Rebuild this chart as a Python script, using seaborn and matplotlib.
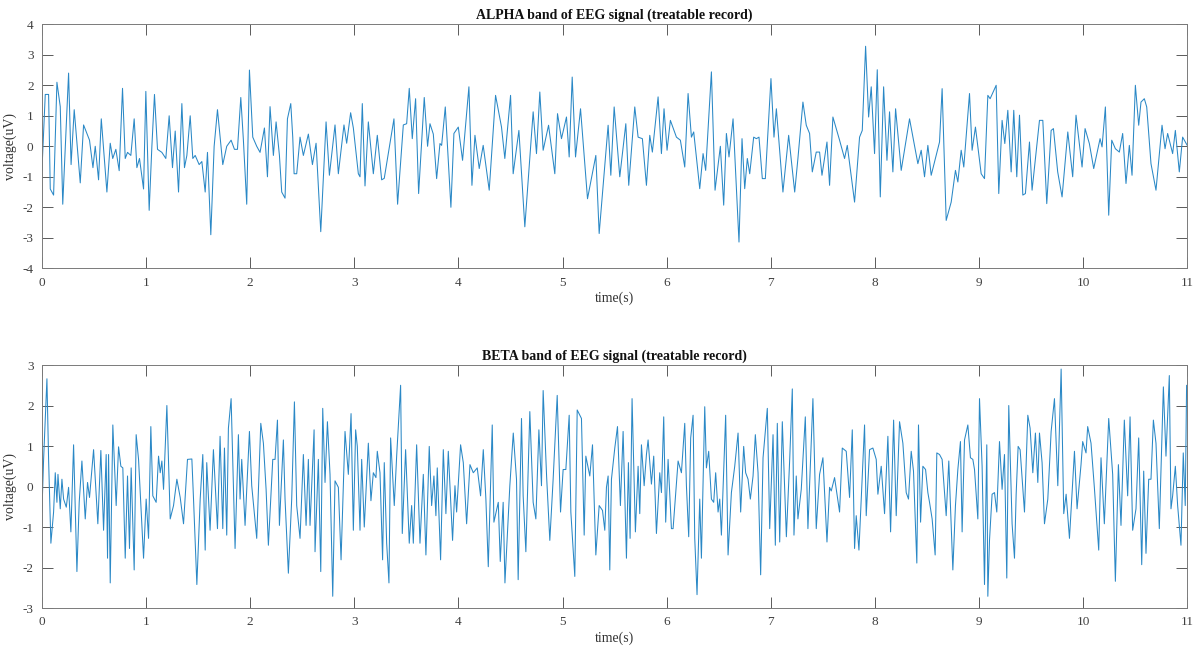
import numpy as np
import pandas as pd
import matplotlib
matplotlib.use("Agg")
import matplotlib.pyplot as plt
import seaborn as sns

# Alpha band (8-13 Hz) of the treatable EEG record: turning points of the trace
alpha_time = [
    0.0, 0.032, 0.064, 0.08, 0.112, 0.144, 0.176, 0.2, 0.256, 0.28, 0.31, 0.368, 0.40, 0.457, 0.49,
    0.512, 0.544, 0.57, 0.624, 0.656, 0.68, 0.71, 0.742, 0.774, 0.80, 0.822, 0.854, 0.886, 0.912,
    0.937, 0.976, 0.998, 1.03, 1.056, 1.081, 1.11, 1.152, 1.19, 1.222, 1.254, 1.28, 1.312, 1.344,
    1.369, 1.392, 1.424, 1.449, 1.472, 1.51, 1.536, 1.568, 1.59, 1.622, 1.654, 1.686, 1.737, 1.775,
    1.817, 1.849, 1.878, 1.91, 1.935, 1.967, 1.993, 2.025, 2.063, 2.095, 2.137, 2.166, 2.191, 2.223,
    2.249, 2.281, 2.303, 2.335, 2.358, 2.39, 2.409, 2.422, 2.447, 2.479, 2.511, 2.559, 2.598, 2.633,
    2.678, 2.729, 2.761, 2.815, 2.847, 2.901, 2.927, 2.965, 2.991, 3.039, 3.055, 3.077, 3.103, 3.135,
    3.183, 3.221, 3.263, 3.288, 3.381, 3.416, 3.471, 3.503, 3.528, 3.557, 3.589, 3.618, 3.672, 3.704,
    3.727, 3.759, 3.791, 3.823, 3.839, 3.874, 3.928, 3.957, 3.999, 4.04, 4.101, 4.13, 4.159, 4.2,
    4.238, 4.296, 4.357, 4.414, 4.446, 4.501, 4.526, 4.581, 4.638, 4.718, 4.75, 4.782, 4.814, 4.866,
    4.926, 4.952, 4.99, 5.038, 5.064, 5.093, 5.125, 5.173, 5.24, 5.32, 5.352, 5.438, 5.464, 5.496,
    5.55, 5.608, 5.636, 5.694, 5.726, 5.767, 5.806, 5.838, 5.863, 5.918, 5.95, 5.975, 6.004, 6.036,
    6.094, 6.132, 6.174, 6.206, 6.238, 6.26, 6.318, 6.35, 6.375, 6.43, 6.465, 6.516, 6.548, 6.574,
    6.599, 6.638, 6.695, 6.724, 6.75, 6.775, 6.798, 6.836, 6.862, 6.887, 6.919, 6.948, 7.002, 7.031,
    7.054, 7.117, 7.172, 7.23, 7.261, 7.309, 7.341, 7.373, 7.399, 7.437, 7.469, 7.492, 7.54, 7.565,
    7.597, 7.661, 7.709, 7.735, 7.805, 7.853, 7.879, 7.911, 7.94, 7.965, 7.997, 8.023, 8.052, 8.084,
    8.116, 8.141, 8.173, 8.199, 8.253, 8.333, 8.413, 8.445, 8.477, 8.509, 8.541, 8.621, 8.646, 8.685,
    8.733, 8.774, 8.797, 8.829, 8.854, 8.909, 8.934, 8.966, 9.021, 9.053, 9.085, 9.107, 9.165, 9.19,
    9.222, 9.248, 9.277, 9.309, 9.334, 9.363, 9.389, 9.421, 9.446, 9.485, 9.51, 9.581, 9.613, 9.651,
    9.693, 9.715, 9.756, 9.798, 9.853, 9.9, 9.932, 9.99, 10.019, 10.06, 10.102, 10.163, 10.182,
    10.214, 10.246, 10.275, 10.31, 10.348, 10.38, 10.412, 10.444, 10.47, 10.502, 10.534, 10.556,
    10.588, 10.611, 10.652, 10.7, 10.758, 10.787, 10.812, 10.86, 10.886, 10.924, 10.956, 11.0,
]
alpha_uv = [
    -0.8, 1.7, 1.7, -1.4, -1.6, 2.1, 1.3, -1.9, 2.4, -0.6, 1.2, -1.2, 0.7, 0.2, -0.7,
    0.0, -1.1, 0.9, -1.5, 0.1, -0.4, -0.1, -0.8, 1.9, -0.4, -0.2, -0.3, 0.9, -0.7,
    -0.4, -1.4, 1.8, -2.1, 0.0, 1.7, -0.1, -0.2, -0.4, 1.0, -0.7, 0.5, -1.5, 1.4,
    -0.7, -0.3, 1.0, -0.4, -0.3, -0.6, -0.5, -1.5, -0.2, -2.9, 0.0, 1.2, -0.6, 0.0,
    0.2, -0.1, -0.1, 1.6, 0.2, -1.9, 2.5, 0.3, 0.0, -0.2, 0.6, -1.0, 1.3, -0.3,
    0.8, -0.3, -1.5, -1.7, 0.9, 1.4, 0.3, -0.9, -0.9, 0.3, -0.3, 0.4, -0.6, 0.1,
    -2.8, 0.8, -0.95, 0.7, -0.9, 0.7, 0.1, 1.1, 0.6, -0.9, -1.0, 1.4, -1.3, 0.8,
    -0.9, 0.36, -1.1, -1.05, 0.9, -1.9, 0.7, 0.74, 1.9, 0.25, 1.56, -1.55, 1.6, 0.0,
    0.74, 0.4, -1.06, 0.09, 0.03, 1.29, -2.0, 0.42, 0.63, -0.46, 1.95, -1.28, 0.36, -0.73,
    0.03, -1.44, 1.67, 0.63, -0.4, 1.67, -0.9, 0.52, -2.64, 1.13, -0.24, 1.78, -0.13, 0.69,
    -0.9, 1.07, 0.25, 0.96, -0.35, 2.27, -0.35, 1.23, -1.72, -0.3, -2.86, 0.69, -0.95, 1.29,
    -1.0, 0.74, -1.28, 1.29, 0.3, 0.25, -1.28, 0.36, -0.19, 1.62, -0.24, 1.23, -0.13, 0.85,
    0.3, 0.2, -0.68, 1.73, 0.3, 0.47, -1.39, -0.24, -0.79, 2.44, -1.44, 0.0, -1.93, 0.42,
    -0.35, 0.9, -3.14, 0.25, -1.39, -0.4, -0.9, 0.3, 0.25, 0.3, -1.06, -1.06, 2.22, 0.3,
    1.23, -1.5, 0.36, -1.5, -0.4, 1.45, 0.69, 0.42, -0.84, -0.19, -0.19, -0.95, 0.14, -1.28,
    0.96, 0.2, -0.4, 0.03, -1.83, 0.3, 0.52, 3.28, 0.96, 1.95, -0.24, 2.51, -1.66, 1.95,
    -0.46, 1.13, -0.84, 1.23, -0.79, 0.9, -0.57, -0.13, -1.0, 0.03, -0.95, 0.14, 1.89, -2.43,
    -1.83, -0.79, -1.17, -0.13, -0.68, 1.73, -0.13, 0.63, -0.9, -1.06, 1.67, 1.56, 2.0, -1.55,
    0.85, 0.09, 1.18, -0.84, 1.18, -1.0, 1.02, -1.6, -1.55, 0.14, -1.44, 0.85, 0.85, -1.88,
    0.52, 0.58, -0.84, -1.66, 0.47, -1.0, 1.02, -0.68, 0.58, 0.09, -0.73, 0.25, -0.02,
    1.29, -2.26, 0.2, -0.08, -0.19, 0.42, -1.22, 0.03, -0.95, 2.0, 0.69, 1.45,
    1.56, 1.29, -0.57, -1.44, 0.69, -0.08, 0.42, -0.24, 0.52, -0.84, 0.3, 0.03,
]

# Beta band (13-30 Hz) of the same record
beta_time = [
    0.0, 0.016, 0.048, 0.064, 0.086, 0.112, 0.128, 0.144, 0.154, 0.176, 0.192, 0.208, 0.234, 0.256,
    0.278, 0.304, 0.336, 0.358, 0.384, 0.416, 0.438, 0.457, 0.496, 0.537, 0.566, 0.592, 0.617, 0.630,
    0.640, 0.656, 0.681, 0.713, 0.736, 0.758, 0.777, 0.800, 0.822, 0.841, 0.857, 0.886, 0.905, 0.928,
    0.976, 1.001, 1.024, 1.046, 1.065, 1.097, 1.120, 1.136, 1.152, 1.168, 1.200, 1.232, 1.264, 1.296,
    1.328, 1.360, 1.398, 1.440, 1.456, 1.488, 1.520, 1.545, 1.568, 1.583, 1.615, 1.647, 1.686, 1.711,
    1.737, 1.753, 1.775, 1.791, 1.817, 1.855, 1.887, 1.903, 1.919, 1.951, 1.993, 2.015, 2.063, 2.102,
    2.127, 2.153, 2.175, 2.217, 2.239, 2.262, 2.281, 2.319, 2.335, 2.367, 2.399, 2.425, 2.447, 2.479,
    2.511, 2.537, 2.559, 2.575, 2.614, 2.623, 2.655, 2.678, 2.697, 2.719, 2.742, 2.767, 2.793, 2.815,
    2.847, 2.873, 2.911, 2.943, 2.969, 2.991, 3.013, 3.029, 3.055, 3.071, 3.096, 3.135, 3.16, 3.183,
    3.208, 3.221, 3.247, 3.272, 3.288, 3.311, 3.333, 3.349, 3.384, 3.407, 3.445, 3.461, 3.493, 3.528,
    3.551, 3.567, 3.599, 3.631, 3.663, 3.688, 3.72, 3.743, 3.765, 3.784, 3.797, 3.829, 3.855, 3.88,
    3.903, 3.944, 3.967, 3.983, 4.021, 4.047, 4.079, 4.111, 4.143, 4.181, 4.213, 4.239, 4.264, 4.287,
    4.325, 4.341, 4.383, 4.402, 4.43, 4.447, 4.494, 4.527, 4.558, 4.574, 4.606, 4.622, 4.648, 4.686,
    4.718, 4.744, 4.773, 4.798, 4.814, 4.847, 4.878, 4.91, 4.949, 4.981, 5.006, 5.032, 5.064, 5.08,
    5.118, 5.141, 5.182, 5.208, 5.224, 5.262, 5.288, 5.32, 5.352, 5.384, 5.406, 5.422, 5.438, 5.454,
    5.47, 5.502, 5.528, 5.556, 5.582, 5.614, 5.633, 5.649, 5.668, 5.7, 5.726, 5.742, 5.758, 5.784,
    5.806, 5.822, 5.854, 5.876, 5.902, 5.934, 5.95, 5.972, 5.991, 6.014, 6.046, 6.062, 6.11, 6.142,
    6.174, 6.19, 6.212, 6.231, 6.254, 6.27, 6.292, 6.318, 6.334, 6.366, 6.382, 6.404, 6.43, 6.452,
    6.471, 6.494, 6.51, 6.526, 6.567, 6.59, 6.622, 6.654, 6.686, 6.711, 6.74, 6.759, 6.782, 6.804,
    6.83, 6.852, 6.878, 6.903, 6.926, 6.967, 6.99, 7.022, 7.044, 7.063, 7.086, 7.111, 7.15, 7.182,
    7.207, 7.223, 7.245, 7.261, 7.293, 7.332, 7.357, 7.405, 7.437, 7.469, 7.501, 7.54, 7.565, 7.581,
    7.613, 7.661, 7.687, 7.725, 7.757, 7.783, 7.805, 7.821, 7.847, 7.901, 7.917, 7.949, 7.981, 8.013,
    8.029, 8.061, 8.093, 8.125, 8.151, 8.18, 8.205, 8.237, 8.269, 8.301, 8.323, 8.349, 8.371, 8.403,
    8.419, 8.439, 8.461, 8.487, 8.509, 8.525, 8.55, 8.579, 8.595, 8.621, 8.646, 8.685, 8.71, 8.749,
    8.774, 8.797, 8.822, 8.838, 8.861, 8.893, 8.918, 8.941, 8.957, 8.989, 9.005, 9.030, 9.053, 9.075,
    9.085, 9.101, 9.126, 9.149, 9.171, 9.197, 9.222, 9.245, 9.267, 9.286, 9.318, 9.341, 9.357, 9.376,
    9.395, 9.437, 9.469, 9.491, 9.517, 9.542, 9.565, 9.581, 9.606, 9.629, 9.661, 9.693, 9.725, 9.757,
    9.789, 9.814, 9.837, 9.869, 9.917, 9.942, 9.98, 9.996, 10.028, 10.044, 10.076, 10.108, 10.15,
    10.172, 10.204, 10.246, 10.284, 10.31, 10.339, 10.364, 10.396, 10.428, 10.451, 10.476, 10.508,
    10.534, 10.563, 10.582, 10.604, 10.63, 10.652, 10.675, 10.7, 10.732, 10.771, 10.796, 10.828,
    10.844, 10.86, 10.886, 10.908, 10.94, 10.962, 10.981, 10.994,
]
beta_uv = [
    -0.63, 0.67, 2.66, 0.67, -1.40, -0.63, 0.34, -0.39, 0.30, -0.55, 0.18, -0.31, -0.51, -0.02,
    -1.12, 1.03, -2.10, -0.39, 0.63, -0.80, 0.10, -0.27, 0.91, -0.92, 0.89, -1.08, 0.79, -1.77,
    0.79, -2.38, 1.52, -0.47, 0.98, 0.50, 0.46, -1.77, 0.26, -1.53, 0.46, -2.06, 1.28, 0.67,
    -1.77, -0.31, -1.28, 1.48, -0.23, -0.39, 0.75, 0.34, 0.63, -0.07, 2.00, -0.80, -0.47, 0.18,
    -0.27, -0.92, 0.67, 0.68, -0.31, -2.42, -0.31, 0.79, -1.57, 0.59, -1.08, 0.91, -1.04, 1.24,
    -1.04, 0.95, -1.20, 1.44, 2.17, -1.53, 1.28, -0.31, 0.67, -0.96, 1.36, 0.02, -1.28, 1.56,
    1.07, -0.07, -1.45, 0.67, 0.67, 1.64, -0.96, 1.15, -0.31, -2.14, -0.31, 2.09, -0.47, -1.28,
    0.79, -0.96, 0.67, -0.96, 1.40, -1.61, 0.67, -2.10, 1.93, 0.10, 1.60, 0.30, -2.71, 0.14,
    -0.02, -1.81, 1.36, 0.30, 1.80, -1.08, 1.40, 0.99, -1.08, 0.67, -1.00, 1.07, -0.35, 0.34,
    0.22, 0.87, 0.34, -1.81, 0.59, -1.40, -2.38, 1.20, -0.47, 0.75, 2.50, -1.16, 0.91, -1.40,
    -0.47, -1.40, 1.03, -1.40, 0.30, -1.69, 0.99, -0.47, 0.26, -0.72, 0.46, -1.81, 0.91, -0.67,
    0.87, -1.33, 0.02, -0.63, 1.03, 0.59, -0.92, 0.54, 0.34, 0.46, -0.23, 0.91, -0.31, -1.98,
    1.52, -0.88, -0.39, -1.85, -0.39, -2.38, 0.02, 1.32, 0.18, -2.30, 1.68, -0.23, -1.61, 1.85,
    -0.39, -0.80, 1.40, 0.02, 2.37, 0.26, -1.33, 0.18, 2.25, -0.63, 0.42, 0.42, 1.76, -0.63,
    -2.22, 1.89, 1.68, -1.20, 0.75, 0.26, 1.03, -1.69, -0.47, -0.59, -1.08, -0.02, 0.26, -2.06,
    0.18, 0.95, 1.48, -0.47, 1.36, -1.77, 0.59, -1.28, 2.17, -1.12, 0.50, -0.67, 1.03, 0.02,
    0.79, 1.15, 0.06, 0.75, -1.16, 0.34, -0.15, 1.72, -0.88, 0.67, -1.04, -1.04, 0.63, 0.34,
    1.56, 0.02, -1.24, 1.20, 1.76, -1.28, -2.67, -0.31, -1.77, 1.97, 0.46, 0.87, -0.31, -0.39,
    0.34, -0.63, -0.31, -1.20, 1.76, -1.69, -0.15, 0.50, 1.32, -0.63, 0.99, 0.34, 0.18, -0.31,
    0.26, 1.28, 0.34, -2.18, 0.71, 1.93, -1.04, 1.28, -1.45, 1.56, -1.37, 1.60, -1.24, 0.67,
    2.41, -1.20, 0.26, -0.80, -0.07, 1.72, -1.04, 2.17, -1.04, 0.30, 0.71, -1.37, -0.02, -0.11,
    0.22, -0.63, 0.95, 0.87, -0.27, 1.40, -1.53, -0.72, -1.57, 1.52, -0.72, 0.91, 0.95, 0.67,
    -0.19, 0.50, -0.67, 1.24, -1.12, 1.64, -0.72, 1.60, 1.07, -0.15, -0.31, 0.87, 0.38, -1.89,
    1.52, -0.88, 0.50, 0.42, -0.15, -0.39, -0.80, -1.69, 0.83, 0.79, 0.67, -0.72, 0.63, -2.06,
    -0.47, 0.42, 1.11, -1.12, 1.15, 1.52, 0.71, 0.67, 0.42, -0.80, 2.17, 0.50, -2.42, 1.03,
    -2.71, -1.33, -0.19, -0.15, -0.63, 1.11, -0.07, 0.79, -2.26, 2.00, -0.92, -1.77, -0.19, 0.99,
    0.91, -0.63, 1.76, 1.44, 0.34, 1.32, 0.10, 1.32, 0.59, -0.92, -0.31, 1.36, 2.17, 0.02,
    2.90, -0.67, -0.19, -1.28, 0.87, -0.55, 0.54, 1.11, 0.83, 1.48, 1.07, -0.02, -1.57,
    0.71, -0.92, 1.68, 0.30, -2.34, 0.54, -0.96, 1.64, -0.23, 1.72, -1.08, -0.55,
    1.20, -1.93, 0.38, -1.65, 0.18, 0.18, 1.64, 1.07, -1.04, 2.46, 0.75, 2.74,
    -0.55, -0.23, 0.50, -0.47, -1.45, 0.83, -0.47, 2.50,
]

band_titles = ["ALPHA band of EEG signal (treatable record)",
               "BETA band of EEG signal (treatable record)"]
x_ticks = list(range(0, 12))
alpha_y_ticks = list(range(-4, 5))
beta_y_ticks = list(range(-3, 4))

sns.set_style("white")
plt.rcParams["font.family"] = ["Liberation Serif", "DejaVu Serif"]
plt.rcParams["axes.unicode_minus"] = False

fig = plt.figure(figsize=(11.98, 6.48), dpi=100)
ax_top = fig.add_axes([0.035, 0.586, 0.956, 0.3765])
ax_bot = fig.add_axes([0.035, 0.0617, 0.956, 0.375])

line_color = "#2a88c6"
panels = [
    (ax_top, alpha_time, alpha_uv, alpha_y_ticks, band_titles[0]),
    (ax_bot, beta_time, beta_uv, beta_y_ticks, band_titles[1]),
]
for ax, t, v, yt, title in panels:
    df = pd.DataFrame({"time": t, "voltage": v})
    sns.lineplot(data=df, x="time", y="voltage", ax=ax, color=line_color,
                 linewidth=0.75, sort=False, estimator=None)
    ax.set_xlim(0, 11)
    ax.set_ylim(yt[0], yt[-1])
    ax.set_xticks(x_ticks)
    ax.set_yticks(yt)
    ax.tick_params(direction="in", length=8, width=0.6, colors="#404040",
                   labelsize=9.5, top=True, right=True, bottom=True, left=True, pad=6)
    for s in ax.spines.values():
        s.set_visible(True)
        s.set_color("#7a7a7a")
        s.set_linewidth(0.7)
    ax.set_xlabel("time(s)", fontsize=10, color="#333333", labelpad=2)
    ax.set_ylabel("voltage(uV)", fontsize=10, color="#333333", labelpad=4)
    ax.set_title(title, fontsize=10, fontweight="bold", color="#111111", pad=4)

fig.savefig("out.png", dpi=100)
